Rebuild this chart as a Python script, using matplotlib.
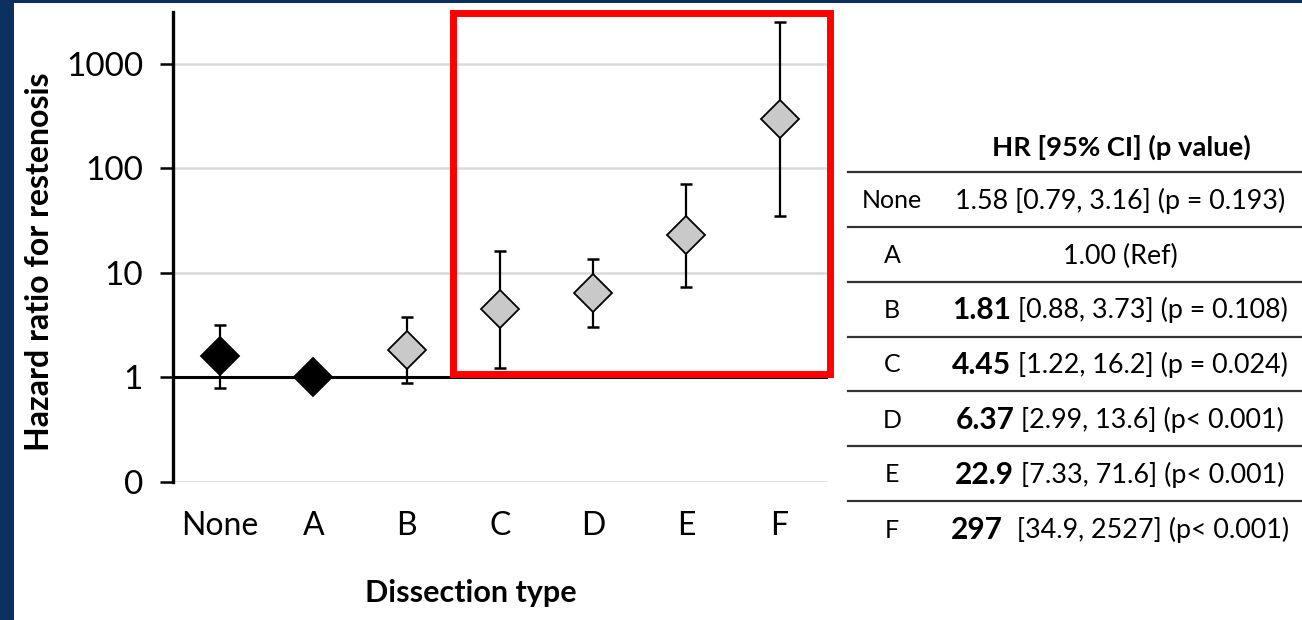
import matplotlib
matplotlib.use("Agg")
import matplotlib.pyplot as plt
from matplotlib.patches import Rectangle
from matplotlib.lines import Line2D

# ---- data ----
categories = ["None", "A", "B", "C", "D", "E", "F"]
hr = [1.58, 1.00, 1.81, 4.45, 6.37, 22.9, 297]
ci_low = [0.79, 1.00, 0.88, 1.22, 2.99, 7.33, 34.9]
ci_high = [3.16, 1.00, 3.73, 16.2, 13.6, 71.6, 2527]
is_reference_style = [True, True, False, False, False, False, False]
ytick_values = [0.1, 1, 10, 100, 1000]
ytick_labels = ["0", "1", "10", "100", "1000"]

table_header = "HR [95% CI] (p value)"
table_bold = ["", "", "1.81", "4.45", "6.37", "22.9", "297"]
table_rest = ["1.58 [0.79, 3.16] (p = 0.193)", "1.00 (Ref)",
              " [0.88, 3.73] (p = 0.108)", " [1.22, 16.2] (p = 0.024)",
              " [2.99, 13.6] (p< 0.001)", " [7.33, 71.6] (p< 0.001)",
              "  [34.9, 2527] (p< 0.001)"]

FONT = "Lato"
W, H = 1302, 620
fig = plt.figure(figsize=(W / 100, H / 100), dpi=100)
fig.patch.set_facecolor("white")

def fx(px):
    return px / W

def fy(py):
    return 1 - py / H

navy = "#0b2f5e"
fig.patches.append(Rectangle((0, 0), fx(14), 1, transform=fig.transFigure,
                             facecolor=navy, edgecolor="none", zorder=0))
fig.patches.append(Rectangle((0, fy(2.5)), 1, 1 - fy(2.5), transform=fig.transFigure,
                             facecolor=navy, edgecolor="none", zorder=0))

ax = fig.add_axes([fx(173), fy(481.5), fx(828) - fx(173), fy(12) - fy(481.5)])
ax.set_yscale("log")
ax.set_ylim(0.1, 3150)
x = list(range(len(categories)))
ax.set_xlim(-0.505, 6.52)

for s in ["top", "right", "bottom"]:
    ax.spines[s].set_visible(False)
ax.spines["left"].set_linewidth(2.4)
ax.spines["left"].set_color("black")

ax.set_yticks(ytick_values)
ax.set_yticklabels(ytick_labels, fontfamily=FONT, fontsize=24)
ax.yaxis.set_minor_locator(matplotlib.ticker.NullLocator())
ax.tick_params(axis="y", length=9.5, width=1.8, pad=12, colors="black")
ax.set_xticks(x)
ax.set_xticklabels(categories, fontfamily=FONT, fontsize=23)
ax.tick_params(axis="x", length=0, pad=21)

for v in [0.1, 10, 100, 1000]:
    ax.axhline(v, color="#d9d9d9", lw=1.8, zorder=1)
ax.axhline(1, color="black", lw=2.2, zorder=2)

for i in x:
    lo, hi = ci_low[i], ci_high[i]
    if hi != lo:
        ax.errorbar(i, hr[i], yerr=[[hr[i] - lo], [hi - hr[i]]], fmt="none",
                    ecolor="black", elinewidth=1.6, capsize=4.5, capthick=1.8, zorder=3)
    face = "black" if is_reference_style[i] else "#c9c9c9"
    ax.plot(i, hr[i], marker="D", ms=19, mfc=face, mec="black", mew=1.3,
            zorder=4, linestyle="none")

ax.set_ylabel("Hazard ratio for restenosis", fontfamily=FONT, fontweight="bold",
              fontsize=23, va="center")
ax.yaxis.set_label_coords((40 - 173) / (828 - 173), (481.5 - 262) / (481.5 - 12))
ax.set_xlabel("Dissection type", fontfamily=FONT, fontweight="bold",
              fontsize=22, va="center")
ax.xaxis.set_label_coords((471 - 173) / (828 - 173), (481.5 - 593) / (481.5 - 12))

# red highlight box
fig.patches.append(Rectangle((fx(452.5), fy(373.5)), fx(829.5) - fx(452.5),
                             fy(12.5) - fy(373.5), transform=fig.transFigure,
                             facecolor="none", edgecolor="#ff0000", lw=5, zorder=10))

# table
fig.text(fx(1121), fy(147), table_header, fontfamily=FONT, fontweight="bold",
         fontsize=19.7, ha="center", va="center")
line_ys = [172, 227, 282, 336.5, 391, 446, 501]
for ly in line_ys:
    fig.lines.append(Line2D([fx(848), 1], [fy(ly), fy(ly)], transform=fig.transFigure,
                            color="#333333", lw=1.6))
row_ys = [201, 256, 310, 365, 420, 475, 530]
renderer = fig.canvas.get_renderer()
for k, cat in enumerate(categories):
    yy = fy(row_ys[k])
    fig.text(fx(892), yy, cat, fontfamily=FONT, fontsize=18, ha="center", va="center")
    tb = fig.text(0, yy, table_bold[k], fontfamily=FONT, fontweight="bold",
                  fontsize=21.5, ha="left", va="center")
    tr = fig.text(0, yy, table_rest[k], fontfamily=FONT, fontsize=19.4,
                  ha="left", va="center")
    wb = tb.get_window_extent(renderer).width if table_bold[k] else 0
    wr = tr.get_window_extent(renderer).width
    start = 1120 - (wb + wr) / 2
    tb.set_x(fx(start))
    tr.set_x(fx(start + wb))

fig.savefig("out.png", dpi=100, facecolor="white")
